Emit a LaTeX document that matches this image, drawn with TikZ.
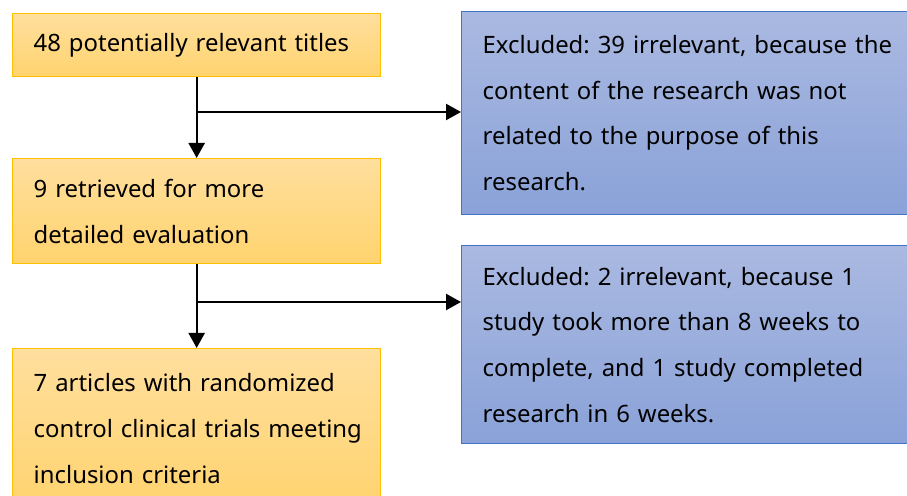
\documentclass[tikz,border=0pt]{standalone}
\usepackage{fontspec}
\setmainfont{Noto Sans}
\frenchspacing
\usetikzlibrary{arrows.meta}

\definecolor{goldline}{HTML}{FFC000}
\definecolor{goldtop}{HTML}{FFDF9E}
\definecolor{goldbot}{HTML}{FFD36E}
\definecolor{blueline}{HTML}{4472C4}
\definecolor{bluetop}{HTML}{AAB9E1}
\definecolor{bluebot}{HTML}{8AA2D8}

\tikzset{
	stagebox/.style={draw=goldline, line width=0.8pt, top color=goldtop, bottom color=goldbot,
		anchor=north west, minimum width=7.36cm, text width=7.36cm, inner xsep=0pt,
		align=left, font=\fontsize{13.6}{26}\selectfont,
		execute at begin node={\leftskip=0.42cm\relax}},
	excludebox/.style={draw=blueline, line width=0.8pt, top color=bluetop, bottom color=bluebot,
		anchor=north west, minimum width=9.4cm, text width=9.4cm, inner xsep=0pt,
		align=left, font=\fontsize{13.6}{26}\selectfont,
		execute at begin node={\leftskip=0.42cm\relax}},
	flow/.style={line width=1.3pt, -{Triangle[length=0.3cm, width=0.32cm]}}
}

\begin{document}
\begin{tikzpicture}[x=0.02cm, y=-0.02cm]
		\useasboundingbox (0,0) rectangle (907,496);
		\clip (0,0) rectangle (907,496);
		% left column
		\node[stagebox, minimum height=1.26cm] (titles) at (12,13) {48 potentially relevant titles};
		\node[stagebox, minimum height=2.1cm] (retrieved) at (12,158) {9 retrieved for more\\detailed evaluation};
		\node[stagebox, minimum height=3.2cm] (included) at (12,348) {7 articles with randomized\\control clinical trials meeting\\inclusion criteria};
		% right column
		\node[excludebox, minimum height=4.06cm] (excl1) at (461,11) {Excluded: 39 irrelevant, because the\\content of the research was not\\related to the purpose of this\\research.};
		\node[excludebox, minimum height=3.96cm] (excl2) at (461,245) {Excluded: 2 irrelevant, because 1\\study took more than 8 weeks to\\complete, and 1 study completed\\research in 6 weeks.};
		% connectors
		\coordinate (split1) at (196,112);
		\coordinate (split2) at (196,302);
		\draw[flow] (titles) -- (retrieved);
		\draw[flow] (split1) -- (split1 -| excl1.west);
		\draw[flow] (retrieved) -- (included);
		\draw[flow] (split2) -- (split2 -| excl2.west);
	\end{tikzpicture}
\end{document}
